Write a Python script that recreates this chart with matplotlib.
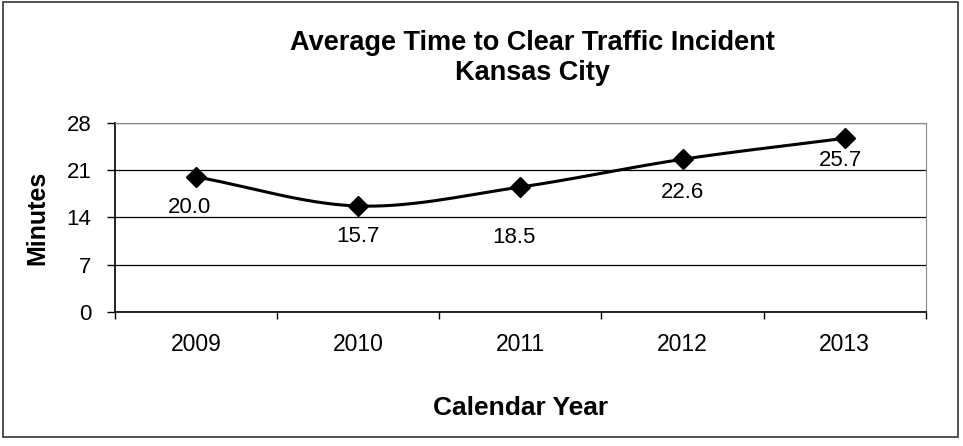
import numpy as np
import matplotlib
matplotlib.use('Agg')
import matplotlib.pyplot as plt
from matplotlib.patches import Rectangle

plt.rcParams['font.family'] = ['Liberation Sans', 'DejaVu Sans']

# data
years = ['2009', '2010', '2011', '2012', '2013']
minutes = [20.0, 15.7, 18.5, 22.6, 25.7]
y_ticks = [0, 7, 14, 21, 28]
# label offsets below each marker (pixels)
label_dx = [-7, 0, -6, 0, -4]
label_dy = [-31, -31, -50, -33, -22]

x = np.arange(len(years))
y = np.array(minutes)

# smoothed line like excel (catmull-rom through the points)
def smooth(xs, ys, n=40):
    px = np.concatenate([[2 * xs[0] - xs[1]], xs, [2 * xs[-1] - xs[-2]]])
    py = np.concatenate([[2 * ys[0] - ys[1]], ys, [2 * ys[-1] - ys[-2]]])
    outx, outy = [], []
    t = np.linspace(0, 1, n)
    for i in range(1, len(px) - 2):
        p0, p1, p2, p3 = px[i - 1], px[i], px[i + 1], px[i + 2]
        q0, q1, q2, q3 = py[i - 1], py[i], py[i + 1], py[i + 2]
        bx = [p1, p1 + (p2 - p0) / 6, p2 - (p3 - p1) / 6, p2]
        by = [q1, q1 + (q2 - q0) / 6, q2 - (q3 - q1) / 6, q2]
        b = [(1 - t) ** 3, 3 * t * (1 - t) ** 2, 3 * t ** 2 * (1 - t), t ** 3]
        outx.append(sum(c * w for c, w in zip(bx, b)))
        outy.append(sum(c * w for c, w in zip(by, b)))
    return np.concatenate(outx), np.concatenate(outy)

fig = plt.figure(figsize=(9.63, 4.46), dpi=100)
ax = fig.add_axes([0.1194, 0.2998, 0.842, 0.4251])

sx, sy = smooth(x.astype(float), y)
ax.plot(sx, sy, color='black', lw=2.2, zorder=3)
ax.plot(x, y, 'D', color='black', ms=10, zorder=4)

for i in range(len(years)):
    ax.annotate('%.1f' % minutes[i], (x[i], y[i]), xytext=(label_dx[i], label_dy[i]),
                textcoords='offset pixels', ha='center', va='center', fontsize=16)

ax.set_xlim(-0.5, len(years) - 0.5)
ax.set_ylim(0, 28)
ax.set_yticks(y_ticks)
ax.set_yticklabels([str(v) for v in y_ticks], fontsize=16)
ax.set_xticks(np.arange(len(years) + 1) - 0.5)
ax.set_xticklabels([])
ax.set_xticks(x, minor=True)
ax.set_xticklabels(years, minor=True, fontsize=16.5)
ax.tick_params(axis='x', which='major', length=5, direction='out', width=1)
ax.tick_params(axis='x', which='minor', length=0, pad=15)
ax.tick_params(axis='y', length=6, direction='out', width=1, pad=11)

ax.yaxis.grid(True, color='black', lw=0.9)
ax.set_axisbelow(True)
for s in ['top', 'right']:
    ax.spines[s].set_color('#888888')
    ax.spines[s].set_linestyle((0, (1, 1)))
for s in ['left', 'bottom']:
    ax.spines[s].set_color('black')
    ax.spines[s].set_linewidth(1.2)

ax.set_ylabel('Minutes', fontsize=18, fontweight='bold', labelpad=12)
ax.set_xlabel('Calendar Year', fontsize=19, fontweight='bold', labelpad=29)
fig.text(0.553, 0.903, 'Average Time to Clear Traffic Incident', ha='center', va='center',
         fontsize=19.5, fontweight='bold')
fig.text(0.553, 0.837, 'Kansas City', ha='center', va='center', fontsize=19.5, fontweight='bold')

fig.patches.append(Rectangle((0.003, 0.02), 0.992, 0.975, transform=fig.transFigure,
                             fill=False, edgecolor='#333333', lw=1.2))

plt.savefig('out.png', dpi=100)
